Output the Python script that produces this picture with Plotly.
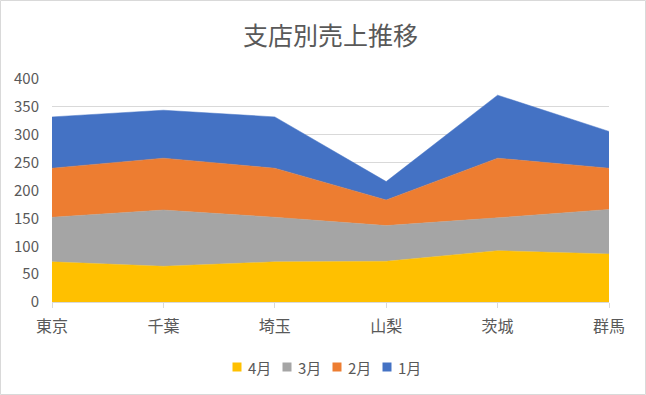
import plotly.graph_objects as go

categories = ["東京", "千葉", "埼玉", "山梨", "茨城", "群馬"]
apr = [72, 64, 72, 73, 92, 86]
mar = [80, 101, 80, 64, 59, 80]
feb = [88, 93, 88, 46, 107, 74]
jan = [92, 86, 92, 33, 113, 66]

series = [("4月", apr, "#FFC000"), ("3月", mar, "#A5A5A5"),
          ("2月", feb, "#ED7D31"), ("1月", jan, "#4472C4")]

W, H = 646, 395
ml, mr, mt, mb = 52, 37, 79, 93
font = "Noto Sans CJK JP"
pw = W - ml - mr
ph = H - mt - mb

fig = go.Figure()
for name, vals, col in series:
    fig.add_trace(go.Scatter(
        x=categories, y=vals, name=name, mode="lines",
        stackgroup="one", fillcolor=col,
        line=dict(color=col, width=0.5),
        showlegend=False, hoverinfo="x+y+name"))

# outer chart border
fig.add_shape(type="rect", xref="paper", yref="paper",
              x0=(-ml + 0.5) / pw, x1=(W - ml - 0.5) / pw,
              y0=(-mb + 0.5) / ph, y1=(H - mb - 0.5) / ph,
              line=dict(color="#D9D9D9", width=1), layer="below")

# legend (square swatch + label), laid out like the original
leg_y = -(367 - 302) / ph
for i, (name, vals, col) in enumerate(series):
    cx = 237 + 50 * i
    fig.add_shape(type="rect", xref="paper", yref="paper",
                  x0=(cx - 4.5 - ml) / pw, x1=(cx + 4.5 - ml) / pw,
                  y0=leg_y - 4.5 / ph, y1=leg_y + 4.5 / ph,
                  fillcolor=col, line=dict(width=0))
    fig.add_annotation(xref="paper", yref="paper", x=(cx + 9 - ml) / pw, y=leg_y,
                       xanchor="left", yanchor="middle", text=name, showarrow=False,
                       font=dict(size=15, color="#595959", family=font))

fig.update_layout(
    width=W, height=H,
    margin=dict(l=ml, r=mr, t=mt, b=mb, autoexpand=False),
    paper_bgcolor="white", plot_bgcolor="white",
    font=dict(family=font, color="#595959", size=15),
    title=dict(text="支店別売上推移", x=0.5, xref="paper", y=1 - 36 / H,
               yanchor="middle", font=dict(size=25, color="#595959", family=font)),
    xaxis=dict(type="category", range=[0, 5], showgrid=False, automargin=False,
               showline=True, linecolor="#D9D9D9", linewidth=1,
               ticks="outside", ticklen=5, tickcolor="#D9D9D9",
               tickfont=dict(size=16), ticklabelstandoff=5),
    yaxis=dict(range=[0, 400], dtick=50, showgrid=True, gridcolor="#D9D9D9",
               gridwidth=1, zeroline=False, showline=False, automargin=False,
               tickfont=dict(size=15), ticklabelstandoff=12),
    showlegend=False,
)

fig.write_html("out.html", config={"displayModeBar": False},
               post_script="document.body.style.margin='0';document.body.style.overflow='hidden';")
